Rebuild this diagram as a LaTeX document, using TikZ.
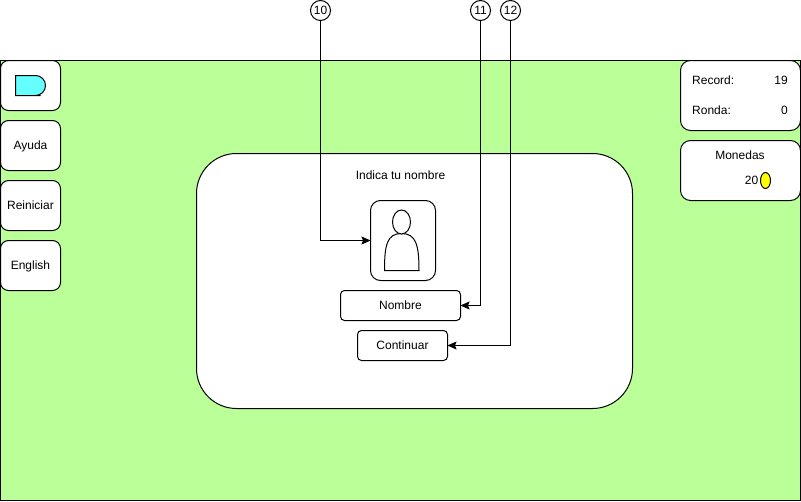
\documentclass[tikz,border=0pt]{standalone}
\usepackage{fontspec}
\setmainfont{Liberation Sans}
\usetikzlibrary{arrows.meta}
\definecolor{fondo}{HTML}{BBFF99}
\definecolor{logo}{HTML}{66FFFF}
\definecolor{moneda}{HTML}{FFFF00}
\tikzset{
  caja/.style={draw=black, fill=white, line width=1pt, rounded corners=#1, anchor=north west, inner sep=0pt, outer sep=0pt, text height=10pt, text depth=2pt, font=\fontsize{12}{14}\selectfont},
  caja/.default=8pt,
  texto/.style={inner sep=0pt, font=\fontsize{12}{14}\selectfont},
  marca/.style={draw=black, fill=white, circle, line width=1pt, minimum size=20pt, inner sep=0pt, outer sep=0pt, font=\fontsize{12}{14}\selectfont},
  flecha/.style={draw=black, line width=1pt, -{Stealth[length=9pt,width=8pt,inset=1.5pt]}},
}

\begin{document}
\begin{tikzpicture}[x=1pt,y=-1pt]
\useasboundingbox (0,0) rectangle (801,501);
\draw [draw=black, fill=fondo, line width=1pt] (0.5,60.5) rectangle (800.5,500.5);
\node[caja, minimum width=60pt, minimum height=50pt] at (0.5,60.5) (inicio) {};
\draw [draw=black, fill=logo, line width=1pt] (30.5,75.5) [rounded corners=10pt] -- (45.5,75.5) -- (45.5,95.5) -- (30.5,95.5) [sharp corners] -- (15.5,95.5) -- (15.5,75.5) -- cycle;
\node[caja, minimum width=60pt, minimum height=50pt] at (0.5,120.5) (ayuda) {Ayuda};
\node[caja, minimum width=60pt, minimum height=50pt] at (0.5,180.5) (reiniciar) {Reiniciar};
\node[caja, minimum width=60pt, minimum height=50pt] at (0.5,240.5) (english) {English};
\node[caja, minimum width=120pt, minimum height=70pt, rounded corners=10pt] at (680.5,60.5) (datos) {};
\node[texto, anchor=west] at (692,80) (record) {Record:};
\node[texto, anchor=east] at (788,80) (recordn) {19};
\node[texto, anchor=west] at (692,110) (ronda) {Ronda:};
\node[texto, anchor=east] at (788,110) (rondan) {0};
\node[caja, minimum width=120pt, minimum height=60pt, rounded corners=10pt] at (680.5,140.5) (monedas) {};
\node[texto] at (740,155) (monedast) {Monedas};
\node[texto, anchor=east] at (758.5,180) (monedasn) {20};
\filldraw [fill=moneda, draw=black, line width=1pt] (765.5,180.5) ellipse (5pt and 8pt);
\node[caja, minimum width=436pt, minimum height=255pt, rounded corners=40pt] at (196.5,153.5) (panel) {};
\node[texto] at (400.5,175) (titulo) {Indica tu nombre};
\node[caja, minimum width=65pt, minimum height=80pt, rounded corners=10pt] at (370.5,200.5) (foto) {};
\draw [draw=black, line width=1pt] (384.5,270.5) .. controls (384.5,245) and (387,233.5) .. (401.5,233.5) .. controls (416,233.5) and (419,245) .. (419,270.5) -- cycle;
\draw [draw=black, fill=white, line width=1pt] (401.5,222) ellipse (9pt and 12pt);
\node[caja, minimum width=120pt, minimum height=30pt, rounded corners=4pt] at (340.5,290.5) (nombre) {Nombre};
\node[caja, minimum width=90pt, minimum height=30pt, rounded corners=4pt] at (357.5,330.5) (continuar) {Continuar};
\node[marca] at (320.5,10.5) (m10) {10};
\node[marca] at (480.5,10.5) (m11) {11};
\node[marca] at (510.5,10.5) (m12) {12};
\draw [flecha] (m10) |- (foto);
\draw [flecha] (m11) |- (nombre);
\draw [flecha] (m12) |- (continuar);
\end{tikzpicture}
\end{document}
